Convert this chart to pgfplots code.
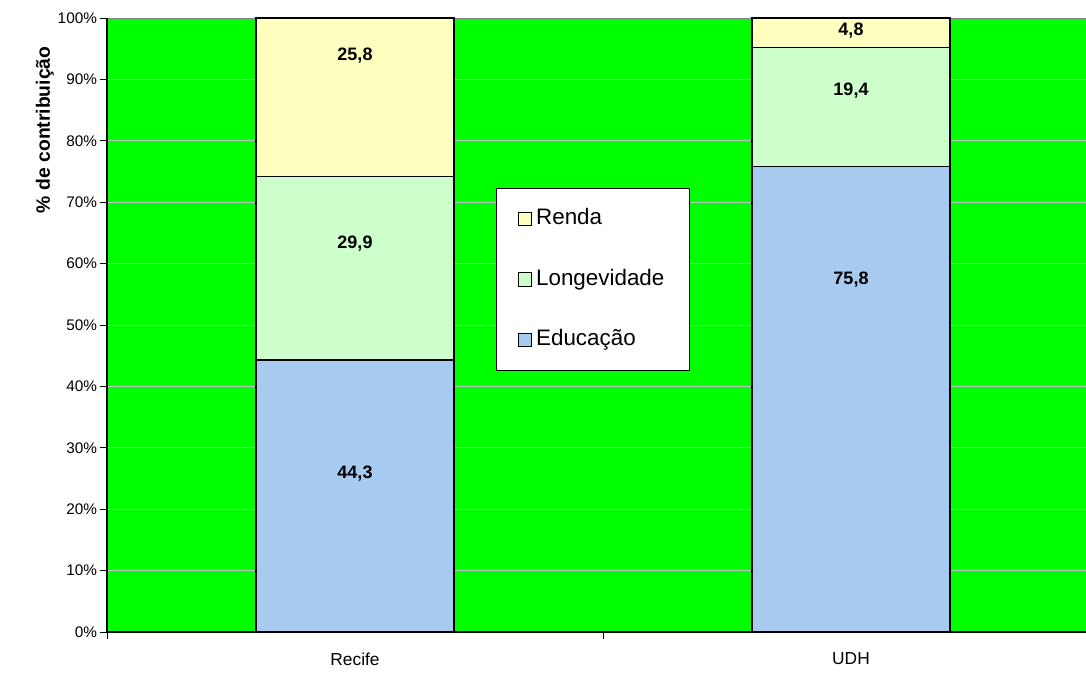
\documentclass[border=0pt]{standalone}
\usepackage{pgfplots}
\pgfplotsset{compat=1.18}
\usepackage{pgfplotstable}
\usepackage{fontspec}
\setmainfont{Liberation Sans}

\definecolor{bggreen}{HTML}{00FF00}
\definecolor{edu}{HTML}{A6CAF0}
\definecolor{longe}{HTML}{CCFFCC}
\definecolor{renda}{HTML}{FFFFC0}
\definecolor{gridgray}{HTML}{C0C0C0}

% x, value, label text, label offset from segment centre (in %)
\pgfplotstableread{
x y lab off
0 44.3 44,3 3.65
1 75.8 75,8 19.5
}\edu
\pgfplotstableread{
x y lab off
0 29.9 29,9 4.05
1 19.4 19,4 2.6
}\longe
\pgfplotstableread{
x y lab off
0 25.8 25,8 6.7
1 4.8 4,8 0.4
}\renda

\pgfplotsset{
  sq legend/.style={legend image code/.code={
    \draw[##1,draw=black,line width=0.8pt] (0pt,-5pt) rectangle (10pt,5pt);}},
}

\begin{document}
\begin{tikzpicture}
\useasboundingbox (-80.25pt,-32.25pt) rectangle (734.25pt,474pt);
\begin{axis}[
  scale only axis,
  width=744pt, height=460.5pt,
  ybar stacked,
  bar width=0.4,
  xmin=-0.5, xmax=1.5,
  ymin=0, ymax=100,
  clip=false,
  axis background/.style={fill=bggreen},
  axis line style={draw=gray},
  ymajorgrids,
  grid style={gridgray, line width=0.6pt},
  tick align=outside,
  major tick length=5pt,
  tick style={black, line width=0.6pt},
  ytick pos=left,
  xtick pos=bottom,
  ytick={0,10,...,100},
  yticklabels={0\%,10\%,20\%,30\%,40\%,50\%,60\%,70\%,80\%,90\%,100\%},
  yticklabel style={font=\fontsize{11.5}{13}\selectfont, xshift=1pt},
  xtick={-0.5,0.5,1.5},
  xticklabels={Recife,UDH},
  x tick label as interval,
  xticklabel style={font=\fontsize{13}{15}\selectfont, yshift=-7pt},
  ylabel={\bfseries \% de contribuição},
  ylabel style={font=\fontsize{14.5}{17}\selectfont, at={(axis description cs:-0.0625,0.818)}, anchor=center, rotate=0},
  reverse legend,
  legend cell align=left,
  legend style={
    at={(rel axis cs:0.392,0.723)}, anchor=north west,
    draw=black, fill=white, line width=0.8pt,
    font=\fontsize{16.8}{19}\selectfont,
    inner xsep=16pt, inner ysep=12pt,
    row sep=24pt,
    nodes={text height=12pt, text depth=3.5pt, inner sep=3pt},
  },
  point meta=explicit symbolic,
  nodes near coords,
  visualization depends on={\thisrow{off}\as\off},
  every node near coord/.append style={
    font=\bfseries\fontsize{13.5}{16}\selectfont, anchor=center,
    yshift={\off*4.605pt}},
]
\addplot[fill=edu, draw=black, line width=1.1pt, sq legend] table[x=x, y=y, meta=lab] {\edu};
\addlegendentry{Educação}
\addplot[fill=longe, draw=black, line width=1.1pt, sq legend] table[x=x, y=y, meta=lab] {\longe};
\addlegendentry{Longevidade}
\addplot[fill=renda, draw=black, line width=1.1pt, sq legend] table[x=x, y=y, meta=lab] {\renda};
\addlegendentry{Renda}
\draw[black, line width=0.8pt] (rel axis cs:0,1) -- (rel axis cs:0,0) -- (rel axis cs:1,0);
\end{axis}
\end{tikzpicture}
\end{document}
